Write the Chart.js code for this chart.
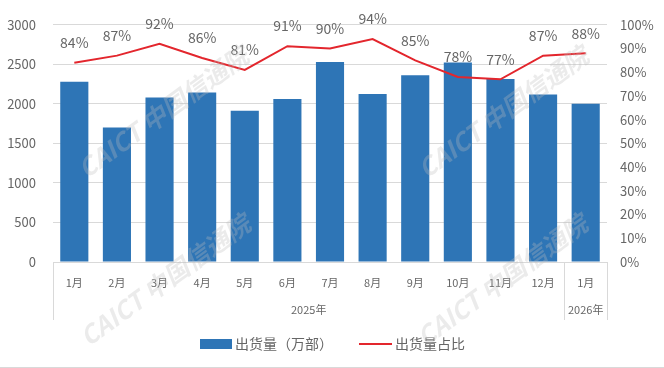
<!DOCTYPE html>
<html>
<head>
<meta charset="utf-8">
<script src="https://cdn.jsdelivr.net/npm/chart.js@4"></script>
<style>
  html, body { margin: 0; padding: 0; background: #fff; }
  #wrap { width: 664px; height: 368px; position: relative; }
</style>
</head>
<body>
<div id="wrap"><canvas id="chart" width="664" height="368"></canvas></div>
<script>
// 月份与年份分组
const months = ["1月", "2月", "3月", "4月", "5月", "6月", "7月", "8月", "9月", "10月", "11月", "12月", "1月"];
const years = ["2025年", "2026年"];
const yearSpans = [12, 1];

// 出货量（万部）和占比（%）
const shipments = [2280, 1700, 2080, 2145, 1912, 2060, 2530, 2124, 2361, 2522, 2313, 2120, 2000];
const shares = [84, 87, 92, 86, 81, 91, 90, 94, 85, 78, 77, 87, 88];

const seriesNames = ["出货量（万部）", "出货量占比"];
const watermarkText = "CAICT 中国信通院";

const FONT = "'Noto Sans CJK SC', 'Noto Sans', sans-serif";
const TEXT = "#666666";
const GRID = "#d9d9d9";
const BLUE = "#2e75b6";
const RED = "#e3262d";

// 折线上方的百分比标签
const shareLabels = {
    id: "shareLabels",
    afterDatasetsDraw(chart) {
        const ctx = chart.ctx;
        const meta = chart.getDatasetMeta(1);
        ctx.save();
        ctx.font = "14px " + FONT;
        ctx.fillStyle = TEXT;
        ctx.textAlign = "center";
        ctx.textBaseline = "middle";
        meta.data.forEach((pt, i) => {
            ctx.fillText(shares[i] + "%", pt.x, pt.y - 20);
        });
        ctx.restore();
    }
};

// x轴年份分组和分隔线
const yearGroups = {
    id: "yearGroups",
    afterDraw(chart) {
        const ctx = chart.ctx;
        const x = chart.scales.x;
        const area = chart.chartArea;
        const step = x.getPixelForValue(1) - x.getPixelForValue(0);
        ctx.save();
        ctx.strokeStyle = GRID;
        ctx.lineWidth = 1;
        ctx.font = "11px " + FONT;
        ctx.fillStyle = TEXT;
        ctx.textAlign = "center";
        ctx.textBaseline = "middle";
        let start = 0;
        const edges = [Math.round(area.left) + 0.5];
        years.forEach((y, g) => {
            const end = start + yearSpans[g] - 1;
            const left = x.getPixelForValue(start) - step / 2;
            const right = x.getPixelForValue(end) + step / 2;
            edges.push(Math.round(right) + 0.5);
            ctx.fillText(y, (left + right) / 2, area.bottom + 48);
            start = end + 1;
        });
        edges.forEach(ex => {
            ctx.beginPath();
            ctx.moveTo(ex, area.bottom);
            ctx.lineTo(ex, area.bottom + 58);
            ctx.stroke();
        });
        // 底部细线
        ctx.beginPath();
        ctx.moveTo(0, chart.height - 0.5);
        ctx.lineTo(chart.width, chart.height - 0.5);
        ctx.stroke();
        ctx.restore();
    }
};

// 图例
const bottomLegend = {
    id: "bottomLegend",
    afterDraw(chart) {
        const ctx = chart.ctx;
        const cy = 344;
        ctx.save();
        ctx.font = "14px " + FONT;
        ctx.textBaseline = "middle";
        ctx.textAlign = "left";
        ctx.fillStyle = BLUE;
        ctx.fillRect(200, cy - 5, 32, 10);
        ctx.fillStyle = TEXT;
        ctx.fillText(seriesNames[0], 235, cy);
        ctx.strokeStyle = RED;
        ctx.lineWidth = 2;
        ctx.beginPath();
        ctx.moveTo(359, cy);
        ctx.lineTo(392, cy);
        ctx.stroke();
        ctx.fillText(seriesNames[1], 395, cy);
        ctx.restore();
    }
};

// 水印
const watermark = {
    id: "watermark",
    afterDraw(chart) {
        const ctx = chart.ctx;
        const spots = [[163, 112], [503, 112], [165, 280], [502, 280]];
        ctx.save();
        ctx.font = "bold italic 25px " + FONT;
        ctx.fillStyle = "rgba(190, 190, 190, 0.3)";
        ctx.textAlign = "center";
        ctx.textBaseline = "middle";
        spots.forEach(([wx, wy]) => {
            ctx.save();
            ctx.translate(wx, wy);
            ctx.rotate(-36 * Math.PI / 180);
            ctx.fillText(watermarkText, 0, 0);
            ctx.restore();
        });
        ctx.restore();
    }
};

new Chart(document.getElementById("chart").getContext("2d"), {
    data: {
        labels: months,
        datasets: [
            {
                type: "bar",
                label: seriesNames[0],
                data: shipments,
                backgroundColor: BLUE,
                yAxisID: "y",
                categoryPercentage: 1,
                barPercentage: 0.66,
                order: 2
            },
            {
                type: "line",
                label: seriesNames[1],
                data: shares,
                borderColor: RED,
                borderWidth: 2,
                pointRadius: 0,
                tension: 0,
                yAxisID: "y1",
                order: 1
            }
        ]
    },
    options: {
        responsive: false,
        animation: false,
        layout: { padding: { top: 13, left: 0, right: 0, bottom: 0 } },
        plugins: {
            legend: { display: false },
            tooltip: { enabled: false }
        },
        scales: {
            x: {
                grid: { display: false, drawTicks: false },
                border: { color: GRID, width: 1 },
                ticks: { color: TEXT, font: { family: FONT, size: 11 }, padding: 14, maxRotation: 0, autoSkip: false },
                afterFit(scale) { scale.height = 106; }
            },
            y: {
                position: "left",
                min: 0,
                max: 3000,
                grid: { color: GRID, drawTicks: false },
                border: { display: false },
                ticks: {
                    stepSize: 500,
                    color: TEXT,
                    font: { family: FONT, size: 13 },
                    padding: 17,
                    callback: v => String(v)
                },
                afterFit(scale) { scale.width = 53; }
            },
            y1: {
                position: "right",
                min: 0,
                max: 100,
                grid: { display: false, drawTicks: false },
                border: { display: false },
                ticks: {
                    stepSize: 10,
                    color: TEXT,
                    font: { family: FONT, size: 13 },
                    padding: 13,
                    callback: v => v + "%"
                },
                afterFit(scale) { scale.width = 57; }
            }
        }
    },
    plugins: [shareLabels, yearGroups, bottomLegend, watermark]
});
</script>
</body>
</html>
